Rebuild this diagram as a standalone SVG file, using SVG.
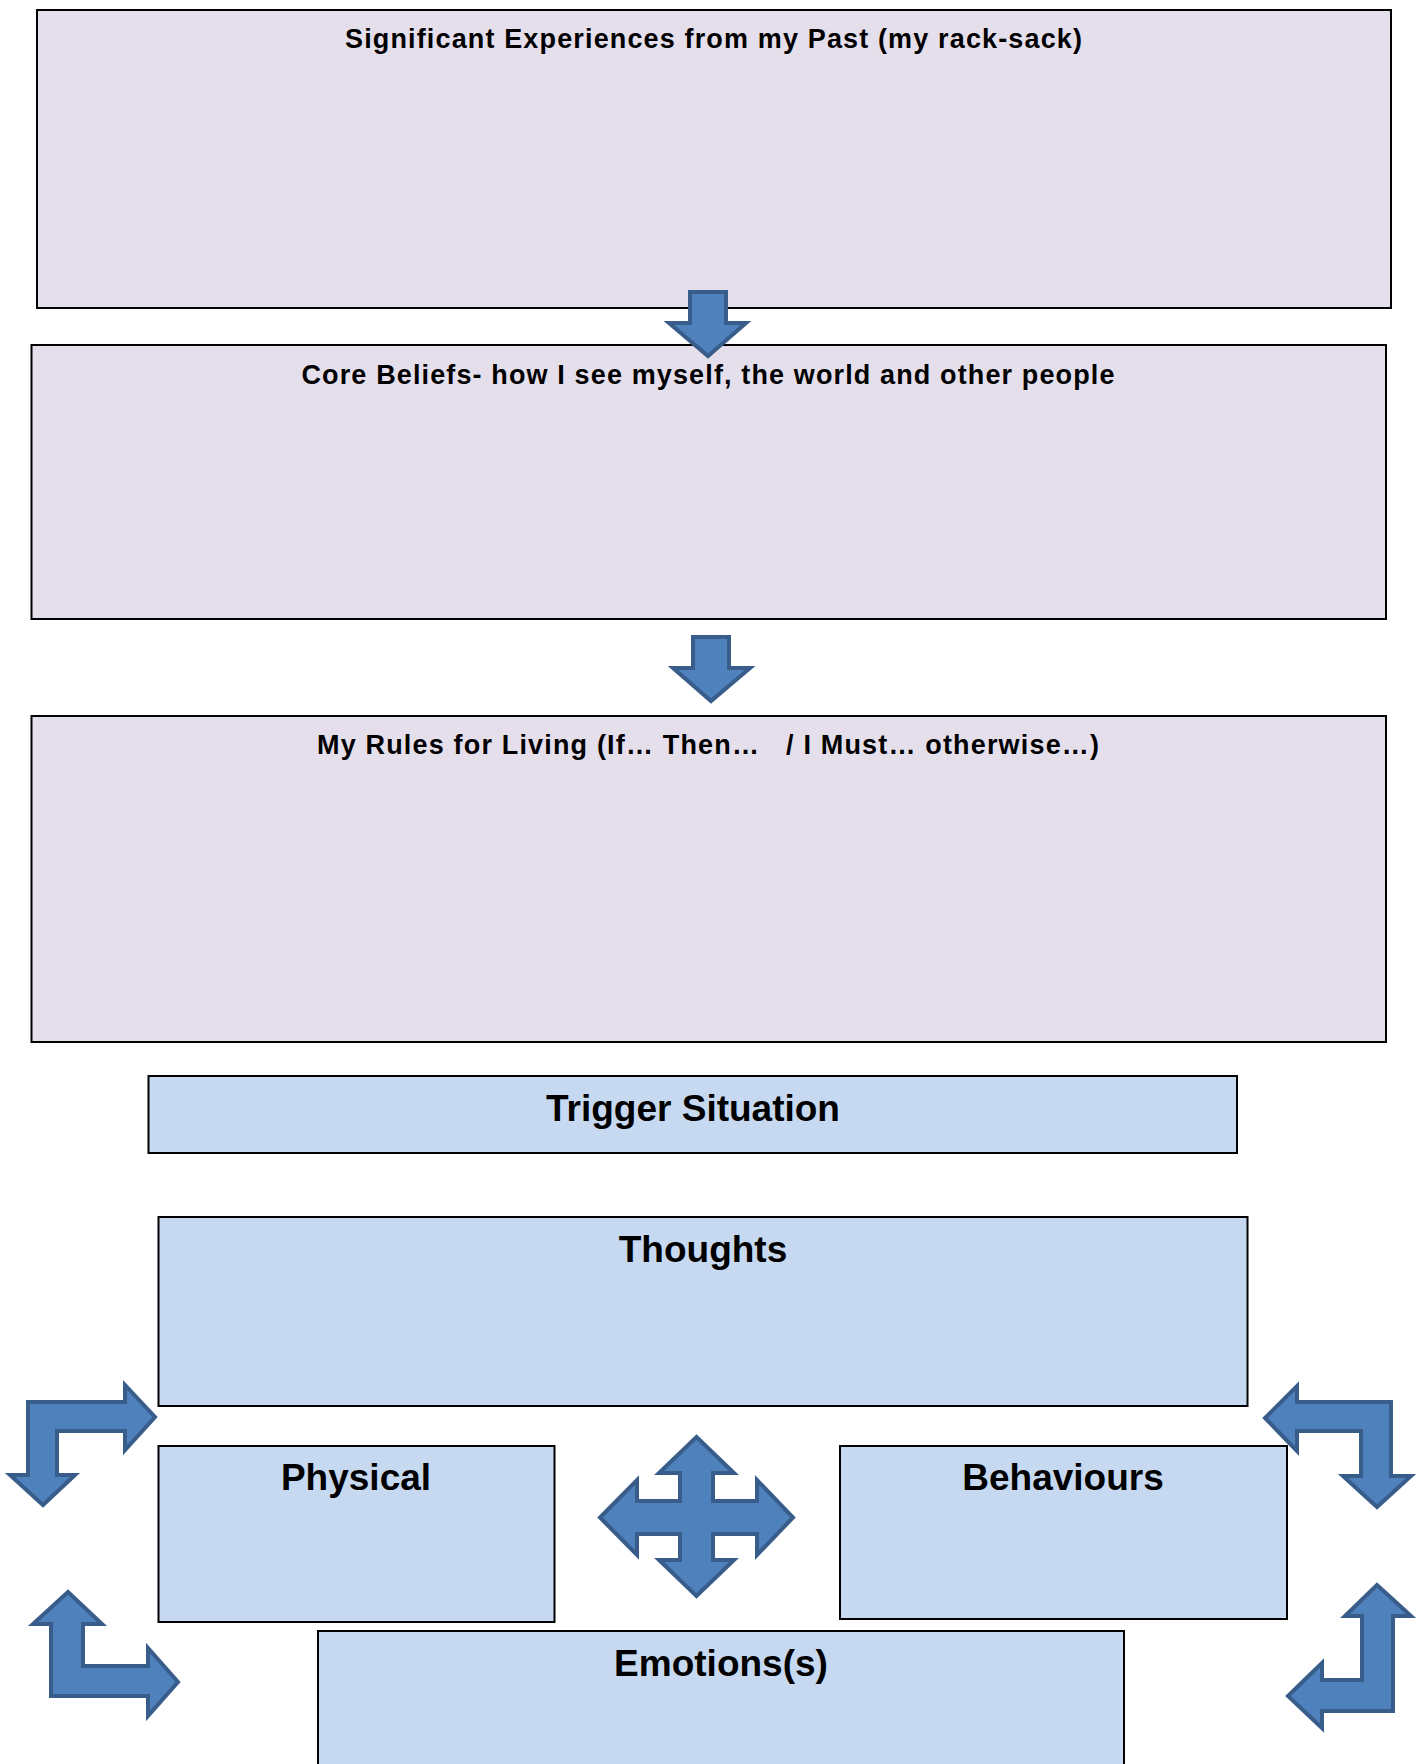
<svg xmlns="http://www.w3.org/2000/svg" width="1424" height="1764" viewBox="0 0 1424 1764">
<style>
.bp{fill:#e5dfec;stroke:#000;stroke-width:2}
.bb{fill:#c6d9f1;stroke:#000;stroke-width:2}
.arr{fill:#4f81bd;stroke:#385d8a;stroke-width:4;stroke-linejoin:miter}
.t1{font-family:"Liberation Sans",Arial,sans-serif;font-weight:bold;font-size:27px;fill:#000;text-anchor:middle}
.t2{font-family:"Liberation Sans",Arial,sans-serif;font-weight:bold;font-size:37px;fill:#000;text-anchor:middle}
</style>
<rect width="1424" height="1764" fill="#fff"/>
<g id="past"><rect class="bp" x="37" y="10" width="1354" height="298"/><text class="t1" x="713.5" y="48" textLength="737" lengthAdjust="spacing">Significant Experiences from my Past (my rack-sack)</text></g>
<g id="core"><rect class="bp" x="31.5" y="345" width="1354.5" height="274"/><text class="t1" x="708" y="384" textLength="813" lengthAdjust="spacing">Core Beliefs- how I see myself, the world and other people</text></g>
<g id="rules"><rect class="bp" x="31.5" y="716" width="1354.5" height="326"/><text class="t1" x="708" y="754" textLength="782" lengthAdjust="spacing" xml:space="preserve">My Rules for Living (If… Then…   / I Must… otherwise…)</text></g>
<g id="trigger"><rect class="bb" x="148.5" y="1076" width="1088.5" height="77"/><text class="t2" x="693" y="1121">Trigger Situation</text></g>
<g id="thoughts"><rect class="bb" x="158.5" y="1217" width="1089" height="189"/><text class="t2" x="703" y="1262">Thoughts</text></g>
<g id="physical"><rect class="bb" x="158.5" y="1446" width="396" height="176"/><text class="t2" x="356" y="1490">Physical</text></g>
<g id="behaviours"><rect class="bb" x="840" y="1446" width="447" height="173"/><text class="t2" x="1063" y="1490">Behaviours</text></g>
<g id="emotions"><rect class="bb" x="318" y="1631" width="806" height="140"/><text class="t2" x="721" y="1676">Emotions(s)</text></g>
<g id="connectors">
<polygon class="arr" points="690,292 726,292 726,323 746,323 708,356 669,323 690,323"/>
<polygon class="arr" points="693,637 729,637 729,668 750,668 711,701 673,668 693,668"/>
<polygon class="arr" points="28,1402 125,1402 125,1385 155,1417 125,1450 125,1431 57,1431 57,1475 75,1475 43,1505 10,1475 28,1475"/>
<polygon class="arr" points="1391,1402 1297,1402 1297,1386 1265,1418 1297,1451 1297,1431 1361,1431 1361,1476 1343,1476 1377,1507 1411,1476 1391,1476"/>
<polygon class="arr" points="51,1696 51,1624 33,1624 68,1592 102,1624 83,1624 83,1666 148,1666 148,1648 178,1682 148,1716 148,1696"/>
<polygon class="arr" points="1393,1711 1322,1711 1322,1728 1288,1696 1322,1663 1322,1680 1362,1680 1362,1616 1345,1616 1377,1585 1411,1616 1393,1616"/>
<polygon class="arr" points="696.5,1437 734,1473 713,1473 713,1501 757,1501 757,1480 793,1517.5 757,1555 757,1534 713,1534 713,1560 734,1560 696.5,1596 659,1560 680,1560 680,1534 637,1534 637,1555 600,1517.5 637,1480 637,1501 680,1501 680,1473 659,1473"/>
</g>
</svg>
